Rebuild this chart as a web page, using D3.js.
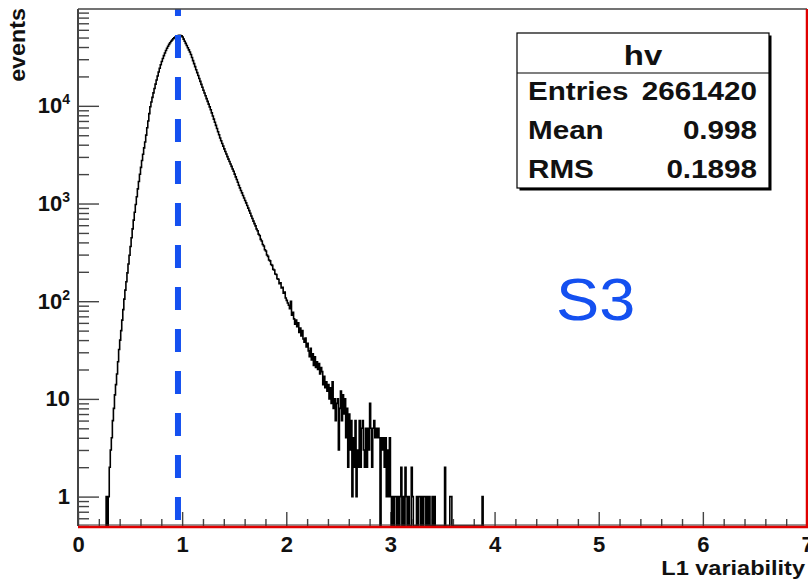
<!DOCTYPE html>
<html><head><meta charset="utf-8">
<script src="https://cdn.jsdelivr.net/npm/d3@7"></script>
<style>body{margin:0;background:#fff} svg{display:block}</style>
</head><body>
<svg id="c" width="808" height="582"></svg>
<script>
// ---------- data ----------
const binStart = 0.27;
const binWidth = 0.01;
const counts = [
  1, 0, 1,
  2, 3, 4, 6, 8, 11, 14, 18, 24, 32,
  40, 50, 64, 82, 105, 130, 158, 195, 240, 295,
  363, 447, 550, 676, 813, 977, 1175, 1413, 1679, 1995,
  2344, 2754, 3199, 3715, 4266, 5010, 5960, 7000, 8320, 9770,
  10960, 12220, 13580, 15070, 16670, 18410, 20230, 22180, 24210, 26300,
  28440, 30550, 32660, 34750, 36810, 38820, 40740, 42560, 44260, 45810,
  47210, 48530, 49660, 50700, 51520, 52120, 52480, 52600, 52480, 52000,
  50700, 48200, 45800, 43550, 41400, 39350, 37400, 35560, 33500, 31200,
  29040, 27040, 25180, 23440, 21880, 20420, 19050, 17780, 16600, 15490,
  14450, 13520, 12680, 11860, 11120, 10400, 9750, 9120, 8470, 7870,
  7310, 6790, 6310, 5860, 5430, 5050, 4680, 4390, 4120, 3870,
  3630, 3410, 3210, 3020, 2850, 2690, 2540, 2400, 2260, 2140,
  2000, 1875, 1760, 1650, 1540, 1445, 1360, 1285, 1210, 1140,
  1075, 1015, 955, 898, 845, 795, 746, 703, 661, 622,
  590, 548, 527, 485, 470, 430, 414, 381, 368, 336,
  327, 297, 288, 264, 259, 238, 233, 212, 209, 190,
  188, 170, 168, 151, 154, 137, 139, 121, 124, 108,
  102, 96, 91, 84, 100, 72, 77, 66, 58, 64,
  55, 60, 48, 53, 44, 50, 41, 38, 42, 34,
  37, 31, 27, 33, 25, 29, 22, 27, 21, 24,
  20, 23, 18, 21, 19, 14, 17, 13, 15, 12,
  14, 10, 13, 9, 15, 8, 10, 6, 9, 10,
  3, 8, 12, 6, 11, 7, 10, 4, 8, 2,
  7, 3, 6, 1, 4, 2, 6, 1, 3, 2,
  6, 2, 5, 6, 3, 2, 5, 2, 5, 3,
  9, 5, 2, 5, 6, 4, 5, 4, 5, 4,
  0, 4, 3, 4, 2, 4, 1, 3, 1, 4,
  1, 0, 1, 0, 1, 1, 0, 1, 0, 1,
  2, 0, 1, 0, 2, 1, 0, 1, 0, 0,
  2, 1, 0, 0, 0, 1, 0, 1, 1, 0,
  1, 0, 1, 1, 0, 1, 0, 1, 0, 0,
  1, 0, 1, 0, 0, 0, 0, 0, 0, 0,
  0, 0, 2, 0, 0, 0, 0, 1, 1, 0,
  0, 0, 0, 0, 0, 0, 0, 0, 0, 0,
  0, 0, 0, 0, 0, 0, 0, 0, 0, 0,
  0, 0, 0, 0, 0, 0, 0, 0, 1, 0
];
const xDomain = [0, 7];
const yDomain = [0.5, 98000];
const xMajorTicks = [0, 1, 2, 3, 4, 5, 6, 7];
const yMajorTicks = [1, 10, 100, 1000, 10000];
const yTickLabels = [["1", ""], ["10", ""], ["10", "2"], ["10", "3"], ["10", "4"]];
const xTitle = "L1 variability";
const yTitle = "events";
const statsTitle = "hv";
const statsLabels = ["Entries", "Mean", "RMS"];
const statsValues = ["2661420", "0.998", "0.1898"];
const markerX = 0.96;
const annotation = "S3";

// ---------- layout ----------
const L = 78, R = 807, T = 9, B = 526;
const FONT = "'Liberation Sans', Arial, Helvetica, sans-serif";
const svg = d3.select("#c");
svg.append("rect").attr("width", 808).attr("height", 582).attr("fill", "#fff");

const x = d3.scaleLinear().domain(xDomain).range([L, R]);
const y = d3.scaleLog().domain(yDomain).range([B, T]);

// minor tick values
const yMinor = [];
for (let e = -1; e <= 4; e++) for (let k = 2; k <= 9; k++) {
  const v = k * Math.pow(10, e);
  if (v >= yDomain[0] && v <= yDomain[1]) yMinor.push(v);
}
const xMinor = d3.range(0, 35).map(i => +(i * 0.2).toFixed(2)).filter(v => Math.abs(v - Math.round(v)) > 1e-6);

// y axis
const gy = svg.append("g").attr("transform", `translate(${L},0)`);
gy.call(d3.axisLeft(y).tickValues(yMinor).tickSize(-11).tickFormat(""));
const gyM = svg.append("g").attr("transform", `translate(${L},0)`);
gyM.call(d3.axisLeft(y).tickValues(yMajorTicks).tickSize(-21).tickPadding(8).tickFormat(""));
[gy, gyM].forEach(g => { g.select(".domain").remove(); g.selectAll("line").attr("stroke", "#444").attr("stroke-width", 1.4); });
gyM.selectAll(".tick text").each(function(d, i) {
  const t = d3.select(this);
  t.attr("font-family", FONT).attr("font-weight", "bold").attr("font-size", 22).attr("fill", "#111");
  const lab = yTickLabels[i];
  t.append("tspan").text(lab[0]);
  if (lab[1]) t.append("tspan").attr("dy", -9).attr("font-size", 14).text(lab[1]);
});

// x axis
const gx = svg.append("g").attr("transform", `translate(0,${B})`);
gx.call(d3.axisBottom(x).tickValues(xMinor).tickSize(-7).tickFormat(""));
const gxM = svg.append("g").attr("transform", `translate(0,${B})`);
gxM.call(d3.axisBottom(x).tickValues(xMajorTicks).tickSize(-14).tickPadding(10).tickFormat(d3.format("d")));
[gx, gxM].forEach(g => { g.select(".domain").remove(); g.selectAll("line").attr("stroke", "#444").attr("stroke-width", 1.4); });
gxM.selectAll(".tick text").attr("font-family", FONT).attr("font-weight", "bold").attr("font-size", 22).attr("fill", "#111");

// histogram
const pts = [[binStart, 0]];
counts.forEach((c, i) => {
  const x0 = binStart + i * binWidth, x1 = x0 + binWidth;
  pts.push([x0, c], [x1, c]);
});
pts.push([binStart + counts.length * binWidth, 0]);
const yv = v => v > 0 ? y(v) : B;
svg.append("path")
  .attr("d", d3.line().x(d => x(d[0])).y(d => yv(d[1]))(pts))
  .attr("fill", "none").attr("stroke", "#000").attr("stroke-width", 1.6)
  .attr("stroke-linejoin", "miter");

// marker dashed line
svg.append("line")
  .attr("x1", x(markerX)).attr("x2", x(markerX))
  .attr("y1", T).attr("y2", B)
  .attr("stroke", "#1450f0").attr("stroke-width", 6)
  .attr("stroke-dasharray", "23 19").attr("stroke-dashoffset", 16);

// frame
svg.append("line").attr("x1", L).attr("x2", R).attr("y1", T).attr("y2", T).attr("stroke", "#444").attr("stroke-width", 1.3);
svg.append("line").attr("x1", L).attr("x2", L).attr("y1", T).attr("y2", B).attr("stroke", "#444").attr("stroke-width", 2);
svg.append("line").attr("x1", L).attr("x2", R).attr("y1", B - 1).attr("y2", B - 1).attr("stroke", "#333").attr("stroke-width", 1);
svg.append("line").attr("x1", L).attr("x2", R + 1).attr("y1", B + 1).attr("y2", B + 1).attr("stroke", "#e00000").attr("stroke-width", 2.5);
svg.append("line").attr("x1", R).attr("x2", R).attr("y1", T).attr("y2", B + 2).attr("stroke", "#e00000").attr("stroke-width", 2.5);

// helper for horizontally stretched text
function stext(g, tx, ty, sx, size, anchor, str, opts = {}) {
  return g.append("text")
    .attr("transform", `translate(${tx},${ty}) scale(${sx},1)`)
    .attr("text-anchor", anchor)
    .attr("font-family", FONT).attr("font-weight", opts.weight || "bold")
    .attr("font-size", size).attr("fill", opts.fill || "#111").text(str);
}

// axis titles
stext(svg, 805, 575, 1.12, 21, "end", xTitle);
svg.append("text").attr("transform", "translate(25,8) rotate(-90) scale(1.06,1)").attr("text-anchor", "end")
  .attr("font-family", FONT).attr("font-weight", "bold").attr("font-size", 22).attr("fill", "#111").text(yTitle);

// stats box
const sb = { x: 517, y: 33, w: 252, h: 155, head: 40 };
const gs = svg.append("g");
gs.append("rect").attr("x", sb.x + 2.5).attr("y", sb.y + 2.5).attr("width", sb.w).attr("height", sb.h).attr("fill", "#000");
gs.append("rect").attr("x", sb.x).attr("y", sb.y).attr("width", sb.w).attr("height", sb.h).attr("fill", "#fff").attr("stroke", "#000").attr("stroke-width", 1.2);
gs.append("line").attr("x1", sb.x).attr("x2", sb.x + sb.w).attr("y1", sb.y + sb.head).attr("y2", sb.y + sb.head).attr("stroke", "#000").attr("stroke-width", 1.2);
stext(gs, sb.x + sb.w / 2, 65, 1.22, 27, "middle", statsTitle);
const rowY = [100, 139, 178];
statsLabels.forEach((l, i) => {
  stext(gs, sb.x + 11, rowY[i], 1.14, 26, "start", l);
  stext(gs, sb.x + sb.w - 12, rowY[i], 1.14, 26, "end", statsValues[i]);
});

// annotation
stext(svg, 556, 320, 1.08, 60, "start", annotation, { weight: "normal", fill: "#1450f0" });
</script>
</body></html>
